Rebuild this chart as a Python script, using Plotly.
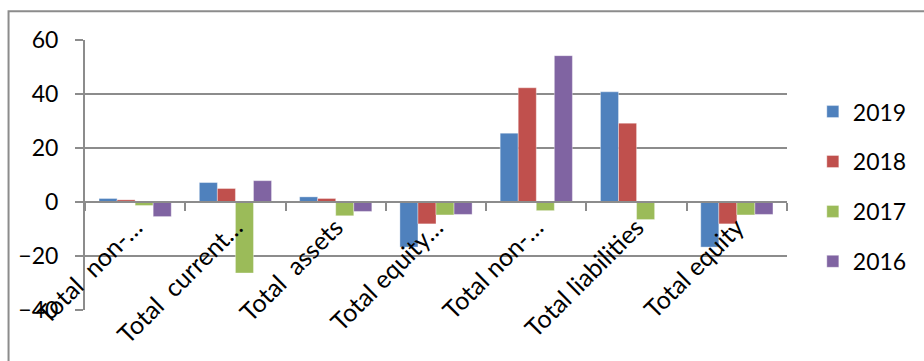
import plotly.graph_objects as go

categories = ["Total  non-…", "Total  current…", "Total  assets", "Total equity…",
              "Total non-…", "Total liabilities", "Total equity"]
v2019 = [1.3, 7.2, 1.9, -16.7, 25.5, 40.8, -16.7]
v2018 = [0.8, 5.0, 1.3, -8.1, 42.3, 29.2, -8.1]
v2017 = [-1.3, -26.3, -5.1, -4.8, -3.2, -6.5, -4.8]
v2016 = [-5.4, 7.9, -3.5, -4.6, 54.2, 0.0, -4.6]
series_names = ["2019", "2018", "2017", "2016"]
colors = ["#4F81BD", "#C0504D", "#9BBB59", "#8064A2"]
y_ticks = [-40, -20, 0, 20, 40, 60]

FONT = "Lato"
GRID = "#8c8c8c"

fig = go.Figure()
for name, vals, col in zip(series_names, [v2019, v2018, v2017, v2016], colors):
    fig.add_trace(go.Bar(
        x=categories, y=vals, name=name, legendgroup=name,
        marker=dict(color=col, line=dict(color="rgba(255,255,255,0.6)", width=0.6)),
    ))

L, R, T, B = 85, 132, 40, 48.5
W, H = 924, 361
pw = W - L - R
ph = H - T - B

fig.update_layout(
    width=W, height=H,
    margin=dict(l=L, r=R, t=T, b=B, pad=0),
    paper_bgcolor="white", plot_bgcolor="white",
    barmode="group", bargap=0.28, bargroupgap=0,
    font=dict(family=FONT, size=22, color="black"),
    showlegend=True,
    legend=dict(
        x=(818 - L) / pw, xanchor="left",
        y=(H - B - 188) / ph, yanchor="middle",
        font=dict(family=FONT, size=23, color="black"),
        tracegroupgap=17, bgcolor="rgba(0,0,0,0)",
    ),
    xaxis=dict(
        type="category", anchor="free", position=0.4,
        showline=True, linecolor=GRID, linewidth=2,
        ticks="outside", tickson="boundaries", ticklen=8, tickcolor=GRID, tickwidth=2,
        tickangle=-45, showgrid=False,
        tickfont=dict(family=FONT, size=25, color="black"),
    ),
    yaxis=dict(
        range=[-40, 60], tickvals=y_ticks, domain=[0, 1],
        showgrid=True, gridcolor=GRID, gridwidth=1.5,
        zeroline=True, zerolinecolor=GRID, zerolinewidth=2,
        showline=True, linecolor=GRID, linewidth=2,
        ticks="outside", ticklen=8, tickcolor=GRID, tickwidth=1.5,
        ticklabelstandoff=12,
        tickfont=dict(family=FONT, size=23, color="black"),
    ),
)

# outer chart border
fig.add_shape(type="rect", xref="paper", yref="paper",
              x0=(8 - L) / pw, x1=(W + 20 - L) / pw,
              y0=(H - B - (H + 20)) / ph, y1=(H - B - 11) / ph,
              line=dict(color=GRID, width=2), fillcolor="rgba(0,0,0,0)", layer="below")

fig.write_html("out.html")
